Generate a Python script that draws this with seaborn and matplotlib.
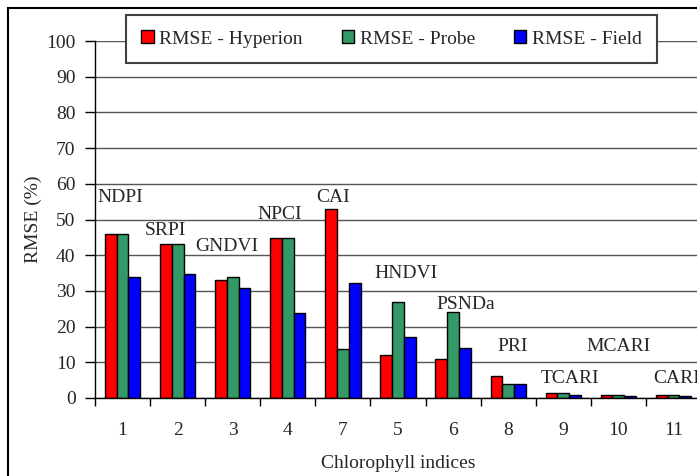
import numpy as np
import pandas as pd
import matplotlib
matplotlib.use("Agg")
import matplotlib.pyplot as plt
import matplotlib.patches as mpatches
from matplotlib.ticker import FixedLocator, NullFormatter
import seaborn as sns

# ---- data ----
categories = ["1", "2", "3", "4", "7", "5", "6", "8", "9", "10", "11"]
index_names = ["NDPI", "SRPI", "GNDVI", "NPCI", "CAI", "HNDVI", "PSNDa", "PRI", "TCARI", "MCARI", "CARI"]
rmse_hyperion = [46.0, 43.0, 33.0, 44.8, 53.0, 12.1, 10.9, 6.1, 1.3, 0.85, 0.85]
rmse_probe = [46.0, 43.0, 33.9, 44.8, 13.8, 26.9, 24.0, 3.9, 1.3, 0.85, 0.85]
rmse_field = [33.9, 34.8, 30.9, 23.9, 32.1, 17.0, 13.9, 3.9, 0.9, 0.5, 0.5]
series_names = ["RMSE - Hyperion", "RMSE - Probe", "RMSE - Field"]
y_ticks = [0, 10, 20, 30, 40, 50, 60, 70, 80, 90, 100]

# label placement (text layout only)
label_dx = [-0.05, -0.22, -0.10, -0.14, -0.18, 0.14, 0.23, 0.09, 0.12, 0.0, 0.05]
label_y = [56.3, 47.0, 42.3, 51.5, 56.3, 35.0, 26.3, 14.3, 5.6, 14.3, 5.6]

df = pd.DataFrame({
    "cat": categories * 3,
    "val": rmse_hyperion + rmse_probe + rmse_field,
    "series": sum([[s] * len(categories) for s in series_names], []),
})

sns.set_style("white")
plt.rcParams["font.family"] = ["Liberation Serif", "DejaVu Serif"]
plt.rcParams["font.size"] = 14

W, H = 697, 476
fig = plt.figure(figsize=(W / 100, H / 100), dpi=100)
ax = fig.add_axes([95 / W, 1 - 398 / H, (701 - 95) / W, (398 - 41) / H])

palette = ["#FF0000", "#339966", "#0000FF"]
sns.barplot(data=df, x="cat", y="val", hue="series", order=categories,
            hue_order=series_names, palette=palette, width=0.64,
            edgecolor="black", linewidth=1.0, saturation=1, ax=ax,
            legend=True, zorder=3)

ax.set_ylim(0, 100)
ax.set_xlim(-0.5, len(categories) - 0.5)
ax.set_yticks(y_ticks)
ax.set_yticklabels([str(t) for t in y_ticks])
ax.yaxis.grid(True, color="#555555", linewidth=1.0, zorder=0)
ax.set_axisbelow(True)
for side in ["top", "right"]:
    ax.spines[side].set_visible(False)
for side in ["left", "bottom"]:
    ax.spines[side].set_color("black")
    ax.spines[side].set_linewidth(1.0)
    ax.spines[side].set_zorder(4)

ax.tick_params(axis="y", direction="out", length=7, width=1.0, color="black",
               pad=7, labelsize=14, left=True)
ax.tick_params(axis="x", which="major", length=0, pad=17, labelsize=14, bottom=True)
ax.xaxis.set_minor_locator(FixedLocator(np.arange(-0.5, len(categories), 1.0)))
ax.xaxis.set_minor_formatter(NullFormatter())
ax.tick_params(axis="x", which="minor", direction="out", length=6, width=1.0,
               color="black", bottom=True)

ax.set_xlabel("Chlorophyll indices", fontsize=14, labelpad=11.5)
ax.set_ylabel("RMSE (%)", fontsize=14, labelpad=3)

for i, (name, dx, ly) in enumerate(zip(index_names, label_dx, label_y)):
    ax.text(i + dx, ly, name, ha="center", va="center", fontsize=14,
            zorder=5, clip_on=False)

leg = ax.legend(loc="center", bbox_to_anchor=(391.5 / W, 1 - 39 / H),
                bbox_transform=fig.transFigure, ncol=3, frameon=True,
                fancybox=False, edgecolor="#404040", framealpha=1,
                handlelength=0.62, handleheight=0.62, handletextpad=0.3,
                columnspacing=2.0, borderpad=0.8, fontsize=14, title=None)
leg.get_frame().set_linewidth(1.5)
leg.set_zorder(6)
for h in leg.legend_handles:
    h.set_edgecolor("black")
    h.set_linewidth(1.0)

fig.patches.append(mpatches.Rectangle((8 / W, -0.2), 2.0, 1.2 - 8 / H,
                                      transform=fig.transFigure, fill=False,
                                      edgecolor="black", linewidth=1.5))

fig.savefig("out.png", dpi=100)
